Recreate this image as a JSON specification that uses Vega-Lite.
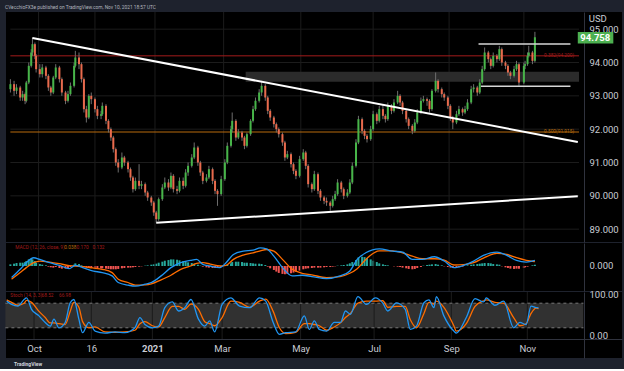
{
"$schema":"https://vega.github.io/schema/vega-lite/v6.json",
"background":"#1e222d",
"padding":{"left":4,"right":4,"top":4,"bottom":2},
"bounds":"flush",
"title":{"text":"CVecchioFX3e published on TradingView.com, Nov 10, 2021 18:57 UTC","anchor":"start","fontSize":4.8,"font":"Roboto","fontWeight":"normal","color":"#b2b5be","offset":2,"dx":1},
"spacing":1,
"config":{"view":{"stroke":null,"fill":"#000000"},"text":{"font":"Roboto"},"axis":{"labelOverlap":false},"axisY":{"labelOverlap":false},"axisRight":{"labelOverlap":false},"axisQuantitative":{"labelOverlap":false}},
"datasets":{
"vg":[{"d":"2020-10-01"},{"d":"2020-11-16"},{"d":"2021-01-04"},{"d":"2021-03-01"},{"d":"2021-05-03"},{"d":"2021-07-01"},{"d":"2021-09-01"},{"d":"2021-11-01"}],
"c":[
{"d":"2020-09-08","o":93.2,"h":93.5,"l":93.1,"c":93.35,"m":0.05},
{"d":"2020-09-11","o":93.35,"h":93.45,"l":93.0,"c":93.15,"m":0.07},
{"d":"2020-09-13","o":93.15,"h":93.35,"l":93.05,"c":93.25,"m":0.09},
{"d":"2020-09-16","o":93.25,"h":93.3,"l":92.85,"c":92.95,"m":0.1},
{"d":"2020-09-18","o":92.95,"h":93.15,"l":92.85,"c":93.05,"m":0.1},
{"d":"2020-09-20","o":93.05,"h":93.1,"l":92.75,"c":92.85,"m":0.12},
{"d":"2020-09-21","o":92.85,"h":93.45,"l":92.8,"c":93.4,"m":0.15},
{"d":"2020-09-23","o":93.4,"h":94.0,"l":93.35,"c":93.9,"m":0.2},
{"d":"2020-09-25","o":93.9,"h":94.4,"l":93.85,"c":94.3,"m":0.22},
{"d":"2020-09-26","o":94.3,"h":94.75,"l":94.2,"c":94.55,"m":0.2},
{"d":"2020-09-28","o":94.55,"h":94.6,"l":94.1,"c":94.2,"m":0.15},
{"d":"2020-09-29","o":94.2,"h":94.25,"l":93.7,"c":93.8,"m":0.1},
{"d":"2020-10-02","o":93.8,"h":93.95,"l":93.55,"c":93.65,"m":0.06},
{"d":"2020-10-04","o":93.65,"h":93.95,"l":93.55,"c":93.85,"m":0.04},
{"d":"2020-10-07","o":93.85,"h":93.9,"l":93.5,"c":93.6,"m":0.02},
{"d":"2020-10-09","o":93.6,"h":93.65,"l":93.15,"c":93.25,"m":-0.02},
{"d":"2020-10-11","o":93.25,"h":93.3,"l":93.0,"c":93.1,"m":-0.04},
{"d":"2020-10-13","o":93.1,"h":93.6,"l":93.05,"c":93.55,"m":-0.05},
{"d":"2020-10-15","o":93.55,"h":93.95,"l":93.5,"c":93.85,"m":-0.03},
{"d":"2020-10-18","o":93.85,"h":93.9,"l":93.4,"c":93.5,"m":-0.06},
{"d":"2020-10-20","o":93.5,"h":93.55,"l":93.0,"c":93.1,"m":-0.08},
{"d":"2020-10-23","o":93.1,"h":93.15,"l":92.75,"c":92.85,"m":-0.08},
{"d":"2020-10-25","o":92.85,"h":93.15,"l":92.8,"c":93.05,"m":-0.06},
{"d":"2020-10-27","o":93.05,"h":93.4,"l":93.0,"c":93.3,"m":-0.03},
{"d":"2020-10-30","o":93.3,"h":94.0,"l":93.25,"c":93.9,"m":0.04},
{"d":"2020-10-31","o":93.9,"h":94.35,"l":93.85,"c":94.15,"m":0.08},
{"d":"2020-11-03","o":94.15,"h":94.3,"l":93.8,"c":93.95,"m":0.06},
{"d":"2020-11-05","o":93.95,"h":94.0,"l":93.4,"c":93.5,"m":0.02},
{"d":"2020-11-07","o":93.5,"h":93.55,"l":92.5,"c":92.6,"m":-0.03},
{"d":"2020-11-09","o":92.6,"h":92.7,"l":92.2,"c":92.35,"m":-0.05},
{"d":"2020-11-11","o":92.35,"h":93.05,"l":92.3,"c":93.0,"m":-0.05},
{"d":"2020-11-13","o":93.0,"h":93.1,"l":92.75,"c":92.9,"m":-0.06},
{"d":"2020-11-16","o":92.9,"h":92.95,"l":92.5,"c":92.6,"m":-0.07},
{"d":"2020-11-18","o":92.6,"h":92.7,"l":92.3,"c":92.4,"m":-0.08},
{"d":"2020-11-21","o":92.4,"h":92.55,"l":92.3,"c":92.45,"m":-0.07},
{"d":"2020-11-22","o":92.45,"h":92.8,"l":92.4,"c":92.7,"m":-0.07},
{"d":"2020-11-25","o":92.7,"h":92.75,"l":92.15,"c":92.25,"m":-0.08},
{"d":"2020-11-27","o":92.25,"h":92.3,"l":91.9,"c":92.0,"m":-0.09},
{"d":"2020-11-29","o":92.0,"h":92.05,"l":91.65,"c":91.75,"m":-0.1},
{"d":"2020-12-01","o":91.75,"h":91.8,"l":91.3,"c":91.4,"m":-0.1},
{"d":"2020-12-03","o":91.4,"h":91.45,"l":90.9,"c":91.0,"m":-0.1},
{"d":"2020-12-05","o":91.0,"h":91.1,"l":90.7,"c":90.85,"m":-0.09},
{"d":"2020-12-08","o":90.85,"h":91.3,"l":90.8,"c":91.15,"m":-0.07},
{"d":"2020-12-10","o":91.15,"h":91.2,"l":90.9,"c":91.0,"m":-0.06},
{"d":"2020-12-13","o":91.0,"h":91.05,"l":90.7,"c":90.8,"m":-0.05},
{"d":"2020-12-15","o":90.8,"h":90.85,"l":90.45,"c":90.55,"m":-0.05},
{"d":"2020-12-17","o":90.55,"h":90.6,"l":90.1,"c":90.2,"m":-0.04},
{"d":"2020-12-19","o":90.2,"h":90.55,"l":90.15,"c":90.45,"m":-0.03},
{"d":"2020-12-22","o":90.45,"h":90.95,"l":90.2,"c":90.3,"m":-0.02},
{"d":"2020-12-24","o":90.3,"h":90.45,"l":90.2,"c":90.35,"m":-0.01},
{"d":"2020-12-27","o":90.35,"h":90.4,"l":90.0,"c":90.1,"m":0.01},
{"d":"2020-12-29","o":90.1,"h":90.15,"l":89.85,"c":89.95,"m":0.02},
{"d":"2021-01-01","o":89.95,"h":90.0,"l":89.7,"c":89.8,"m":0.04},
{"d":"2021-01-03","o":89.8,"h":89.85,"l":89.4,"c":89.5,"m":0.05},
{"d":"2021-01-05","o":89.5,"h":89.55,"l":89.2,"c":89.3,"m":0.07},
{"d":"2021-01-07","o":89.3,"h":89.95,"l":89.25,"c":89.9,"m":0.1},
{"d":"2021-01-10","o":89.9,"h":90.35,"l":89.85,"c":90.25,"m":0.13},
{"d":"2021-01-12","o":90.25,"h":90.55,"l":90.2,"c":90.4,"m":0.16},
{"d":"2021-01-15","o":90.4,"h":90.5,"l":90.15,"c":90.25,"m":0.18},
{"d":"2021-01-17","o":90.25,"h":90.7,"l":90.2,"c":90.6,"m":0.2},
{"d":"2021-01-19","o":90.6,"h":90.65,"l":90.1,"c":90.2,"m":0.2},
{"d":"2021-01-22","o":90.2,"h":90.3,"l":90.05,"c":90.15,"m":0.19},
{"d":"2021-01-24","o":90.15,"h":90.55,"l":90.1,"c":90.45,"m":0.17},
{"d":"2021-01-27","o":90.45,"h":90.55,"l":90.2,"c":90.3,"m":0.15},
{"d":"2021-01-29","o":90.3,"h":90.8,"l":90.25,"c":90.7,"m":0.13},
{"d":"2021-01-31","o":90.7,"h":91.0,"l":90.6,"c":90.9,"m":0.11},
{"d":"2021-02-03","o":90.9,"h":91.25,"l":90.85,"c":91.15,"m":0.09},
{"d":"2021-02-05","o":91.15,"h":91.6,"l":91.1,"c":91.45,"m":0.07},
{"d":"2021-02-08","o":91.45,"h":91.5,"l":90.9,"c":91.0,"m":0.04},
{"d":"2021-02-10","o":91.0,"h":91.05,"l":90.6,"c":90.7,"m":0.01},
{"d":"2021-02-12","o":90.7,"h":90.75,"l":90.35,"c":90.45,"m":-0.02},
{"d":"2021-02-15","o":90.45,"h":90.65,"l":90.4,"c":90.55,"m":-0.04},
{"d":"2021-02-17","o":90.55,"h":90.9,"l":90.5,"c":90.8,"m":-0.05},
{"d":"2021-02-20","o":90.8,"h":90.85,"l":90.35,"c":90.45,"m":-0.06},
{"d":"2021-02-22","o":90.45,"h":90.5,"l":90.05,"c":90.15,"m":-0.06},
{"d":"2021-02-24","o":90.15,"h":90.2,"l":89.7,"c":90.05,"m":-0.05},
{"d":"2021-02-27","o":90.05,"h":90.6,"l":90.0,"c":90.5,"m":-0.03},
{"d":"2021-03-02","o":90.5,"h":91.1,"l":90.45,"c":91.0,"m":0.0},
{"d":"2021-03-04","o":91.0,"h":91.6,"l":90.95,"c":91.5,"m":0.04},
{"d":"2021-03-07","o":91.5,"h":92.1,"l":91.45,"c":92.0,"m":0.08},
{"d":"2021-03-08","o":92.0,"h":92.5,"l":91.9,"c":92.25,"m":0.12},
{"d":"2021-03-11","o":92.25,"h":92.3,"l":91.65,"c":91.75,"m":0.13},
{"d":"2021-03-13","o":91.75,"h":92.0,"l":91.7,"c":91.9,"m":0.13},
{"d":"2021-03-16","o":91.9,"h":91.95,"l":91.65,"c":91.75,"m":0.12},
{"d":"2021-03-18","o":91.75,"h":91.8,"l":91.4,"c":91.5,"m":0.1},
{"d":"2021-03-20","o":91.5,"h":91.9,"l":91.45,"c":91.85,"m":0.1},
{"d":"2021-03-23","o":91.85,"h":92.3,"l":91.8,"c":92.25,"m":0.09},
{"d":"2021-03-25","o":92.25,"h":92.7,"l":92.2,"c":92.6,"m":0.08},
{"d":"2021-03-27","o":92.6,"h":92.95,"l":92.55,"c":92.85,"m":0.07},
{"d":"2021-03-30","o":92.85,"h":93.2,"l":92.8,"c":93.1,"m":0.07},
{"d":"2021-04-01","o":93.1,"h":93.45,"l":93.0,"c":93.3,"m":0.06},
{"d":"2021-04-04","o":93.3,"h":93.35,"l":92.85,"c":92.95,"m":0.03},
{"d":"2021-04-06","o":92.95,"h":93.0,"l":92.45,"c":92.55,"m":-0.02},
{"d":"2021-04-08","o":92.55,"h":92.6,"l":92.25,"c":92.35,"m":-0.07},
{"d":"2021-04-11","o":92.35,"h":92.4,"l":92.05,"c":92.15,"m":-0.12},
{"d":"2021-04-13","o":92.15,"h":92.2,"l":91.9,"c":92.0,"m":-0.17},
{"d":"2021-04-15","o":92.0,"h":92.05,"l":91.75,"c":91.85,"m":-0.21},
{"d":"2021-04-18","o":91.85,"h":91.9,"l":91.5,"c":91.6,"m":-0.24},
{"d":"2021-04-20","o":91.6,"h":91.65,"l":91.05,"c":91.15,"m":-0.25},
{"d":"2021-04-22","o":91.15,"h":91.35,"l":91.1,"c":91.25,"m":-0.24},
{"d":"2021-04-25","o":91.25,"h":91.3,"l":90.85,"c":90.95,"m":-0.22},
{"d":"2021-04-27","o":90.95,"h":91.0,"l":90.65,"c":90.75,"m":-0.2},
{"d":"2021-04-29","o":90.75,"h":90.8,"l":90.5,"c":90.6,"m":-0.17},
{"d":"2021-05-02","o":90.6,"h":91.2,"l":90.55,"c":91.1,"m":-0.14},
{"d":"2021-05-05","o":91.1,"h":91.4,"l":91.05,"c":91.3,"m":-0.1},
{"d":"2021-05-07","o":91.3,"h":91.35,"l":90.8,"c":90.9,"m":-0.08},
{"d":"2021-05-09","o":90.9,"h":90.95,"l":90.25,"c":90.35,"m":-0.07},
{"d":"2021-05-12","o":90.35,"h":90.4,"l":90.1,"c":90.2,"m":-0.06},
{"d":"2021-05-14","o":90.2,"h":90.75,"l":90.15,"c":90.65,"m":-0.05},
{"d":"2021-05-17","o":90.65,"h":90.7,"l":90.05,"c":90.15,"m":-0.05},
{"d":"2021-05-19","o":90.15,"h":90.2,"l":89.85,"c":89.95,"m":-0.05},
{"d":"2021-05-22","o":89.95,"h":90.0,"l":89.75,"c":89.85,"m":-0.04},
{"d":"2021-05-24","o":89.85,"h":89.95,"l":89.7,"c":89.8,"m":-0.03},
{"d":"2021-05-27","o":89.8,"h":89.85,"l":89.55,"c":89.7,"m":-0.03},
{"d":"2021-05-29","o":89.7,"h":90.0,"l":89.65,"c":89.9,"m":-0.02},
{"d":"2021-05-31","o":89.9,"h":90.15,"l":89.85,"c":90.05,"m":-0.01},
{"d":"2021-06-02","o":90.05,"h":90.5,"l":90.0,"c":90.4,"m":0.01},
{"d":"2021-06-05","o":90.4,"h":90.45,"l":90.1,"c":90.2,"m":0.02},
{"d":"2021-06-07","o":90.2,"h":90.25,"l":89.9,"c":90.0,"m":0.03},
{"d":"2021-06-10","o":90.0,"h":90.2,"l":89.95,"c":90.1,"m":0.05},
{"d":"2021-06-12","o":90.1,"h":90.5,"l":90.05,"c":90.4,"m":0.08},
{"d":"2021-06-14","o":90.4,"h":91.0,"l":90.35,"c":90.9,"m":0.12},
{"d":"2021-06-17","o":90.9,"h":91.7,"l":90.85,"c":91.6,"m":0.18},
{"d":"2021-06-19","o":91.6,"h":92.4,"l":91.55,"c":92.3,"m":0.26},
{"d":"2021-06-22","o":92.3,"h":92.35,"l":91.85,"c":91.95,"m":0.28},
{"d":"2021-06-24","o":91.95,"h":92.0,"l":91.7,"c":91.8,"m":0.27},
{"d":"2021-06-26","o":91.8,"h":91.85,"l":91.6,"c":91.7,"m":0.24},
{"d":"2021-06-29","o":91.7,"h":92.1,"l":91.65,"c":92.0,"m":0.2},
{"d":"2021-07-01","o":92.0,"h":92.55,"l":91.95,"c":92.45,"m":0.16},
{"d":"2021-07-04","o":92.45,"h":92.5,"l":92.15,"c":92.25,"m":0.12},
{"d":"2021-07-06","o":92.25,"h":92.7,"l":92.2,"c":92.6,"m":0.08},
{"d":"2021-07-09","o":92.6,"h":92.75,"l":92.3,"c":92.4,"m":0.05},
{"d":"2021-07-11","o":92.4,"h":92.45,"l":92.2,"c":92.3,"m":0.03},
{"d":"2021-07-13","o":92.3,"h":92.8,"l":92.25,"c":92.7,"m":0.02},
{"d":"2021-07-16","o":92.7,"h":92.75,"l":92.45,"c":92.55,"m":0.0},
{"d":"2021-07-18","o":92.55,"h":92.9,"l":92.5,"c":92.8,"m":-0.01},
{"d":"2021-07-21","o":92.8,"h":93.15,"l":92.75,"c":93.0,"m":-0.02},
{"d":"2021-07-23","o":93.0,"h":93.05,"l":92.7,"c":92.8,"m":-0.03},
{"d":"2021-07-25","o":92.8,"h":92.85,"l":92.45,"c":92.55,"m":-0.05},
{"d":"2021-07-28","o":92.55,"h":92.6,"l":92.2,"c":92.3,"m":-0.07},
{"d":"2021-07-30","o":92.3,"h":92.35,"l":92.0,"c":92.1,"m":-0.09},
{"d":"2021-08-02","o":92.1,"h":92.15,"l":91.85,"c":91.95,"m":-0.1},
{"d":"2021-08-04","o":91.95,"h":92.3,"l":91.9,"c":92.2,"m":-0.09},
{"d":"2021-08-06","o":92.2,"h":92.6,"l":92.15,"c":92.5,"m":-0.06},
{"d":"2021-08-09","o":92.5,"h":92.95,"l":92.45,"c":92.85,"m":-0.03},
{"d":"2021-08-11","o":92.85,"h":93.0,"l":92.8,"c":92.9,"m":0.01},
{"d":"2021-08-14","o":92.9,"h":92.95,"l":92.7,"c":92.85,"m":0.03},
{"d":"2021-08-16","o":92.85,"h":92.9,"l":92.5,"c":92.6,"m":0.04},
{"d":"2021-08-18","o":92.6,"h":93.2,"l":92.55,"c":93.15,"m":0.05},
{"d":"2021-08-21","o":93.15,"h":93.7,"l":93.1,"c":93.45,"m":0.06},
{"d":"2021-08-23","o":93.45,"h":93.5,"l":93.1,"c":93.2,"m":0.04},
{"d":"2021-08-26","o":93.2,"h":93.25,"l":92.95,"c":93.05,"m":0.02},
{"d":"2021-08-28","o":93.05,"h":93.1,"l":92.85,"c":92.95,"m":-0.01},
{"d":"2021-08-31","o":92.95,"h":93.0,"l":92.6,"c":92.7,"m":-0.03},
{"d":"2021-09-02","o":92.7,"h":92.75,"l":92.25,"c":92.35,"m":-0.05},
{"d":"2021-09-04","o":92.35,"h":92.4,"l":92.0,"c":92.2,"m":-0.06},
{"d":"2021-09-07","o":92.2,"h":92.55,"l":92.15,"c":92.45,"m":-0.06},
{"d":"2021-09-09","o":92.45,"h":92.7,"l":92.4,"c":92.6,"m":-0.04},
{"d":"2021-09-12","o":92.6,"h":92.65,"l":92.4,"c":92.5,"m":-0.02},
{"d":"2021-09-14","o":92.5,"h":92.7,"l":92.45,"c":92.6,"m":0.0},
{"d":"2021-09-16","o":92.6,"h":92.9,"l":92.55,"c":92.8,"m":0.02},
{"d":"2021-09-19","o":92.8,"h":93.3,"l":92.75,"c":93.2,"m":0.04},
{"d":"2021-09-21","o":93.2,"h":93.35,"l":93.1,"c":93.25,"m":0.05},
{"d":"2021-09-24","o":93.25,"h":93.3,"l":93.0,"c":93.1,"m":0.06},
{"d":"2021-09-26","o":93.1,"h":93.5,"l":93.05,"c":93.4,"m":0.07},
{"d":"2021-09-28","o":93.4,"h":93.9,"l":93.35,"c":93.8,"m":0.08},
{"d":"2021-09-30","o":93.8,"h":94.45,"l":93.75,"c":94.3,"m":0.09},
{"d":"2021-10-03","o":94.3,"h":94.35,"l":94.0,"c":94.1,"m":0.09},
{"d":"2021-10-05","o":94.1,"h":94.15,"l":93.8,"c":93.9,"m":0.08},
{"d":"2021-10-07","o":93.9,"h":94.3,"l":93.85,"c":94.2,"m":0.06},
{"d":"2021-10-10","o":94.2,"h":94.25,"l":94.0,"c":94.1,"m":0.05},
{"d":"2021-10-12","o":94.1,"h":94.5,"l":94.05,"c":94.4,"m":0.04},
{"d":"2021-10-14","o":94.4,"h":94.45,"l":93.9,"c":94.0,"m":-0.01},
{"d":"2021-10-17","o":94.0,"h":94.05,"l":93.8,"c":93.9,"m":-0.04},
{"d":"2021-10-19","o":93.9,"h":93.95,"l":93.6,"c":93.7,"m":-0.06},
{"d":"2021-10-21","o":93.7,"h":93.75,"l":93.5,"c":93.6,"m":-0.08},
{"d":"2021-10-24","o":93.6,"h":93.9,"l":93.55,"c":93.8,"m":-0.09},
{"d":"2021-10-26","o":93.8,"h":94.05,"l":93.75,"c":93.95,"m":-0.08},
{"d":"2021-10-28","o":93.95,"h":94.0,"l":93.3,"c":93.4,"m":-0.08},
{"d":"2021-11-01","o":93.4,"h":94.0,"l":93.35,"c":93.9,"m":-0.06},
{"d":"2021-11-02","o":93.9,"h":94.05,"l":93.8,"c":93.95,"m":-0.04},
{"d":"2021-11-04","o":93.95,"h":94.3,"l":93.9,"c":94.2,"m":-0.02},
{"d":"2021-11-05","o":94.2,"h":94.5,"l":94.15,"c":94.3,"m":0.0},
{"d":"2021-11-08","o":94.3,"h":94.35,"l":93.95,"c":94.05,"m":0.02},
{"d":"2021-11-10","o":94.05,"h":94.92,"l":94.0,"c":94.758,"m":0.038}
],
"ml":[{"d":"2020-09-09","a":-0.35,"s":-0.4},{"d":"2020-09-16","a":-0.1,"s":-0.2},{"d":"2020-09-21","a":0.1,"s":-0.05},{"d":"2020-09-27","a":0.25,"s":0.1},{"d":"2020-10-02","a":0.2,"s":0.15},{"d":"2020-10-10","a":0.1,"s":0.12},{"d":"2020-10-18","a":0.02,"s":0.07},{"d":"2020-10-26","a":-0.08,"s":0.01},{"d":"2020-10-31","a":0.02,"s":0.0},{"d":"2020-11-06","a":-0.05,"s":-0.02},{"d":"2020-11-14","a":-0.15,"s":-0.06},{"d":"2020-11-22","a":-0.2,"s":-0.1},{"d":"2020-11-30","a":-0.3,"s":-0.2},{"d":"2020-12-05","a":-0.5,"s":-0.4},{"d":"2020-12-13","a":-0.58,"s":-0.5},{"d":"2020-12-19","a":-0.61,"s":-0.58},{"d":"2020-12-27","a":-0.55,"s":-0.57},{"d":"2021-01-01","a":-0.5,"s":-0.54},{"d":"2021-01-09","a":-0.3,"s":-0.42},{"d":"2021-01-17","a":-0.05,"s":-0.28},{"d":"2021-01-25","a":0.1,"s":-0.1},{"d":"2021-02-02","a":0.17,"s":0.0},{"d":"2021-02-07","a":0.2,"s":0.08},{"d":"2021-02-12","a":0.05,"s":0.1},{"d":"2021-02-18","a":0.0,"s":0.06},{"d":"2021-02-26","a":-0.05,"s":0.0},{"d":"2021-03-03","a":0.1,"s":0.02},{"d":"2021-03-09","a":0.35,"s":0.2},{"d":"2021-03-17","a":0.45,"s":0.33},{"d":"2021-03-25","a":0.48,"s":0.4},{"d":"2021-03-31","a":0.55,"s":0.46},{"d":"2021-04-05","a":0.52,"s":0.5},{"d":"2021-04-11","a":0.3,"s":0.45},{"d":"2021-04-18","a":-0.05,"s":0.2},{"d":"2021-04-26","a":-0.3,"s":-0.1},{"d":"2021-05-04","a":-0.28,"s":-0.22},{"d":"2021-05-12","a":-0.32,"s":-0.27},{"d":"2021-05-24","a":-0.38,"s":-0.35},{"d":"2021-06-04","a":-0.3,"s":-0.32},{"d":"2021-06-12","a":-0.15,"s":-0.22},{"d":"2021-06-18","a":0.2,"s":-0.08},{"d":"2021-06-25","a":0.4,"s":0.2},{"d":"2021-07-06","a":0.52,"s":0.46},{"d":"2021-07-17","a":0.45,"s":0.46},{"d":"2021-07-25","a":0.42,"s":0.4},{"d":"2021-08-02","a":0.2,"s":0.3},{"d":"2021-08-10","a":0.2,"s":0.22},{"d":"2021-08-20","a":0.28,"s":0.22},{"d":"2021-08-28","a":0.15,"s":0.18},{"d":"2021-09-05","a":-0.05,"s":0.03},{"d":"2021-09-13","a":0.02,"s":0.04},{"d":"2021-09-21","a":0.15,"s":0.1},{"d":"2021-09-29","a":0.32,"s":0.24},{"d":"2021-10-10","a":0.42,"s":0.38},{"d":"2021-10-18","a":0.32,"s":0.35},{"d":"2021-10-26","a":0.17,"s":0.25},{"d":"2021-11-03","a":0.12,"s":0.17},{"d":"2021-11-10","a":0.17,"s":0.13}],
"st":[{"d":"2020-09-09","k":85,"s":88},{"d":"2020-09-13","k":77,"s":82},{"d":"2020-09-18","k":73,"s":75},{"d":"2020-09-23","k":89,"s":80},{"d":"2020-09-25","k":93,"s":87},{"d":"2020-09-29","k":65,"s":82},{"d":"2020-10-05","k":49,"s":60},{"d":"2020-10-10","k":33,"s":45},{"d":"2020-10-14","k":24,"s":32},{"d":"2020-10-17","k":41,"s":32},{"d":"2020-10-21","k":20,"s":30},{"d":"2020-10-26","k":33,"s":28},{"d":"2020-10-30","k":81,"s":60},{"d":"2020-11-02","k":89,"s":82},{"d":"2020-11-06","k":41,"s":70},{"d":"2020-11-09","k":8,"s":35},{"d":"2020-11-14","k":33,"s":20},{"d":"2020-11-19","k":12,"s":22},{"d":"2020-11-27","k":7,"s":10},{"d":"2020-12-05","k":10,"s":9},{"d":"2020-12-13","k":8,"s":10},{"d":"2020-12-21","k":20,"s":14},{"d":"2020-12-25","k":45,"s":30},{"d":"2020-12-29","k":28,"s":35},{"d":"2021-01-04","k":20,"s":25},{"d":"2021-01-09","k":24,"s":22},{"d":"2021-01-14","k":69,"s":45},{"d":"2021-01-20","k":83,"s":72},{"d":"2021-01-25","k":61,"s":72},{"d":"2021-01-30","k":69,"s":65},{"d":"2021-02-04","k":89,"s":78},{"d":"2021-02-10","k":41,"s":65},{"d":"2021-02-15","k":24,"s":35},{"d":"2021-02-19","k":37,"s":30},{"d":"2021-02-23","k":10,"s":25},{"d":"2021-03-01","k":77,"s":45},{"d":"2021-03-08","k":93,"s":85},{"d":"2021-03-15","k":73,"s":82},{"d":"2021-03-23","k":69,"s":70},{"d":"2021-03-31","k":93,"s":85},{"d":"2021-04-05","k":85,"s":90},{"d":"2021-04-11","k":33,"s":60},{"d":"2021-04-16","k":4,"s":20},{"d":"2021-04-21","k":8,"s":6},{"d":"2021-04-29","k":10,"s":9},{"d":"2021-05-06","k":49,"s":30},{"d":"2021-05-10","k":16,"s":30},{"d":"2021-05-14","k":37,"s":28},{"d":"2021-05-18","k":16,"s":25},{"d":"2021-05-24","k":12,"s":14},{"d":"2021-05-30","k":33,"s":22},{"d":"2021-06-04","k":33,"s":32},{"d":"2021-06-08","k":61,"s":45},{"d":"2021-06-12","k":53,"s":55},{"d":"2021-06-18","k":96,"s":80},{"d":"2021-06-25","k":77,"s":85},{"d":"2021-07-02","k":93,"s":85},{"d":"2021-07-08","k":80,"s":86},{"d":"2021-07-12","k":61,"s":70},{"d":"2021-07-19","k":81,"s":72},{"d":"2021-07-26","k":65,"s":72},{"d":"2021-07-30","k":16,"s":40},{"d":"2021-08-04","k":24,"s":20},{"d":"2021-08-10","k":81,"s":55},{"d":"2021-08-14","k":88,"s":82},{"d":"2021-08-18","k":69,"s":78},{"d":"2021-08-20","k":96,"s":85},{"d":"2021-08-26","k":49,"s":70},{"d":"2021-09-03","k":12,"s":25},{"d":"2021-09-05","k":7,"s":12},{"d":"2021-09-13","k":45,"s":30},{"d":"2021-09-20","k":91,"s":72},{"d":"2021-09-27","k":83,"s":86},{"d":"2021-09-29","k":93,"s":88},{"d":"2021-10-06","k":75,"s":82},{"d":"2021-10-13","k":85,"s":80},{"d":"2021-10-21","k":20,"s":45},{"d":"2021-10-26","k":33,"s":25},{"d":"2021-10-31","k":28,"s":30},{"d":"2021-11-04","k":73,"s":55},{"d":"2021-11-08","k":69,"s":68},{"d":"2021-11-10","k":68.52,"s":66.98}]
},
"vconcat":[
{
"width":616,"height":230,
"encoding":{"x":{"field":"d","type":"temporal","scale":{"domain":[{"year":2020,"month":9,"date":8,"hours":12,"utc":true},{"year":2022,"month":1,"date":16,"utc":true}],"nice":false},"axis":null}},
"layer":[
{"data":{"values":[{"d":"2020-09-08","d2":"2021-12-16","p":89},{"d":"2020-09-08","d2":"2021-12-16","p":90},{"d":"2020-09-08","d2":"2021-12-16","p":91},{"d":"2020-09-08","d2":"2021-12-16","p":92},{"d":"2020-09-08","d2":"2021-12-16","p":93},{"d":"2020-09-08","d2":"2021-12-16","p":94},{"d":"2020-09-08","d2":"2021-12-16","p":95}]},
 "mark":{"type":"rule","color":"#1c1c1c"},
 "encoding":{"x2":{"field":"d2"},"y":{"field":"p","type":"quantitative","scale":{"domain":[88.615,95.515],"nice":false,"zero":false},"axis":{"orient":"right","offset":-38,"values":[89,90,91,92,93,94,95],"tickCount":7,"format":".3f","title":null,"grid":false,"ticks":false,"domain":true,"domainColor":"#30333e","labelColor":"#c9ccd4","labelFontSize":9.5,"labelFont":"Roboto","labelAlign":"left","labelPadding":5,"labelBaseline":"middle","labelOverlap":false,"labelBound":false,"labelFlush":false,"labelSeparation":0}}}},
{"data":{"name":"vg"},"mark":{"type":"rule","color":"#1c1c1c"},"encoding":{}},
{"data":{"values":[{"d":"2021-03-19","d2":"2021-12-16","p1":93.42,"p2":93.72}]},"mark":{"type":"rect","color":"#2b2b2b"},
 "encoding":{"x2":{"field":"d2"},"y":{"field":"p1","type":"quantitative","title":null},"y2":{"field":"p2"}}},
{"data":{"values":[{"d":"2020-09-08","d2":"2021-12-16","p":94.2,"k":"a"},{"d":"2020-09-08","d2":"2021-12-16","p":91.915,"k":"b"}]},"mark":{"type":"rule","strokeWidth":1},
 "encoding":{"x2":{"field":"d2"},"y":{"field":"p","type":"quantitative","title":null},"color":{"field":"k","type":"nominal","scale":{"domain":["a","b"],"range":["#a31b1b","#b86a0c"]},"legend":null}}},
{"data":{"values":[{"d":"2021-12-12","p":94.2,"t":"0.382(94.200)","k":"a"},{"d":"2021-12-12","p":91.915,"t":"0.500(91.915)","k":"b"}]},"mark":{"type":"text","align":"right","baseline":"middle","fontSize":4.8},
 "encoding":{"y":{"field":"p","type":"quantitative","title":null},"text":{"field":"t"},"color":{"field":"k","type":"nominal","legend":null}}},
{"data":{"name":"c"},"mark":{"type":"rule","color":"#6e6e6e","strokeWidth":1},
 "encoding":{"y":{"field":"l","type":"quantitative","title":null},"y2":{"field":"h"}}},
{"data":{"name":"c"},"mark":{"type":"bar","width":2},
 "encoding":{"y":{"field":"o","type":"quantitative","title":null},"y2":{"field":"c"},"color":{"condition":{"test":"datum.c >= datum.o","value":"#47b549"},"value":"#e96a4c"}}},
{"data":{"values":[{"g":"a","d":"2020-09-26","p":94.735},{"g":"a","d":"2021-12-15","p":91.615},{"g":"b","d":"2021-01-05","p":89.19},{"g":"b","d":"2021-12-15","p":89.99}]},"mark":{"type":"line","color":"#ffffff","strokeWidth":2},
 "encoding":{"y":{"field":"p","type":"quantitative","title":null},"detail":{"field":"g"}}},
{"data":{"values":[{"g":"u","d":"2021-09-25","p":94.555},{"g":"u","d":"2021-12-09","p":94.555},{"g":"l","d":"2021-09-27","p":93.286},{"g":"l","d":"2021-12-09","p":93.286}]},"mark":{"type":"line","color":"#d6d6d6","strokeWidth":1.5},
 "encoding":{"y":{"field":"p","type":"quantitative","title":null},"detail":{"field":"g"}}},
{"data":{"values":[{"d":"2021-12-15","d2":"2022-01-13","p1":94.57,"p2":94.915}]},"mark":{"type":"rect","color":"#4caf50"},
 "encoding":{"x2":{"field":"d2"},"y":{"field":"p1","type":"quantitative","title":null},"y2":{"field":"p2"}}},
{"data":{"values":[{"d":"2021-12-17","p":94.74,"t":"94.758"}]},"mark":{"type":"text","align":"left","baseline":"middle","fontSize":9.5,"fontWeight":"bold","color":"#ffffff"},
 "encoding":{"y":{"field":"p","type":"quantitative","title":null},"text":{"field":"t"}}},
{"data":{"values":[{"d":"2021-12-24","p":95.3,"t":"USD"}]},"mark":{"type":"text","align":"left","baseline":"middle","fontSize":9.5,"color":"#c9ccd4"},
 "encoding":{"y":{"field":"p","type":"quantitative","title":null},"text":{"field":"t"}}}
]
},
{
"width":616,"height":48,
"encoding":{"x":{"field":"d","type":"temporal","scale":{"domain":[{"year":2020,"month":9,"date":8,"hours":12,"utc":true},{"year":2022,"month":1,"date":16,"utc":true}],"nice":false},"axis":null}},
"layer":[
{"data":{"name":"c"},"mark":{"type":"bar","width":2},
 "encoding":{"y":{"field":"m","type":"quantitative","scale":{"domain":[-0.758,0.697],"nice":false,"zero":false},"axis":{"orient":"right","offset":-38,"zindex":1,"values":[0],"format":".3f","title":null,"grid":false,"ticks":false,"domain":true,"domainColor":"#30333e","labelColor":"#c9ccd4","labelFontSize":9.5,"labelFont":"Roboto","labelAlign":"left","labelPadding":5,"labelBaseline":"middle","labelOverlap":false,"labelBound":false,"labelFlush":false}},"y2":{"datum":0},"color":{"condition":{"test":"datum.m >= 0","value":"#26a69a"},"value":"#ef5350"}}},
{"data":{"name":"vg"},"mark":{"type":"rule","color":"#1c1c1c"},"encoding":{}},
{"data":{"name":"ml"},"mark":{"type":"line","color":"#ff6d00","strokeWidth":1.3,"interpolate":"monotone"},
 "encoding":{"y":{"field":"s","type":"quantitative","title":null}}},
{"data":{"name":"ml"},"mark":{"type":"line","color":"#2196f3","strokeWidth":1.3,"interpolate":"monotone"},
 "encoding":{"y":{"field":"a","type":"quantitative","title":null}}},
{"data":{"values":[{"d":"2020-09-12","v":0.545,"t":"MACD (12, 26, close, 9)","k":"n"},{"d":"2020-10-22","v":0.545,"t":"0.038","k":"h"},{"d":"2020-11-01","v":0.545,"t":"0.170","k":"a"},{"d":"2020-11-14","v":0.545,"t":"0.132","k":"s"}]},"mark":{"type":"text","align":"left","baseline":"middle","fontSize":4.8},
 "encoding":{"y":{"field":"v","type":"quantitative","title":null},"text":{"field":"t"},"color":{"field":"k","type":"nominal","scale":{"domain":["n","h","a","s"],"range":["#b2b5be","#26a69a","#2196f3","#ff6d00"]},"legend":null}}}
]
},
{
"width":616,"height":66,
"title":{"text":"TradingView","orient":"bottom","anchor":"start","fontSize":5,"fontWeight":"bold","color":"#d1d4dc","offset":4,"dx":10,"font":"Roboto"},
"encoding":{"x":{"field":"d","type":"temporal","scale":{"domain":[{"year":2020,"month":9,"date":8,"hours":12,"utc":true},{"year":2022,"month":1,"date":16,"utc":true}],"nice":false},
 "axis":{"orient":"bottom","offset":-19,"zindex":1,"title":null,"grid":false,"ticks":false,"domain":true,"domainColor":"#30333e","labelColor":"#c9ccd4","labelFontSize":9.5,"labelFont":"Roboto","labelPadding":4,"labelOverlap":false,"labelBound":false,
 "values":[{"year":2020,"month":10,"date":1,"utc":true},{"year":2020,"month":11,"date":16,"utc":true},{"year":2021,"month":1,"date":4,"utc":true},{"year":2021,"month":3,"date":1,"utc":true},{"year":2021,"month":5,"date":3,"utc":true},{"year":2021,"month":7,"date":1,"utc":true},{"year":2021,"month":9,"date":1,"utc":true},{"year":2021,"month":11,"date":1,"utc":true}],
 "labelExpr":"utcFormat(datum.value, '%m-%d') == '11-16' ? '16' : (utcFormat(datum.value, '%m') == '01' ? utcFormat(datum.value, '%Y') : utcFormat(datum.value, '%b'))",
 "labelFontWeight":{"condition":{"test":"utcFormat(datum.value, '%m') == '01'","value":"bold"},"value":"normal"}}}},
"layer":[
{"data":{"values":[{"d":"2020-09-08","d2":"2021-12-16","p1":20,"p2":80}]},"mark":{"type":"rect","color":"#313131"},
 "encoding":{"x2":{"field":"d2"},"y":{"field":"p1","type":"quantitative","scale":{"domain":[-53.7,107.3],"nice":false,"zero":false},"axis":{"orient":"right","offset":-38,"zindex":1,"values":[0,100],"format":".2f","title":null,"grid":false,"ticks":false,"domain":true,"domainColor":"#30333e","labelColor":"#c9ccd4","labelFontSize":9.5,"labelFont":"Roboto","labelAlign":"left","labelPadding":5,"labelBaseline":"middle","labelOverlap":false,"labelBound":false,"labelFlush":false}},"y2":{"field":"p2"}}},
{"data":{"name":"vg"},"mark":{"type":"rule","color":"#1c1c1c"},
 "encoding":{"y":{"datum":-7.3,"type":"quantitative","title":null},"y2":{"datum":107.3}}},
{"data":{"values":[{"d":"2020-09-08","d2":"2021-12-16","p":20},{"d":"2020-09-08","d2":"2021-12-16","p":80}]},"mark":{"type":"rule","color":"#787878","strokeDash":[3,3]},
 "encoding":{"x2":{"field":"d2"},"y":{"field":"p","type":"quantitative","title":null}}},
{"data":{"name":"st"},"mark":{"type":"line","color":"#ff6d00","strokeWidth":1.3,"interpolate":"monotone"},
 "encoding":{"y":{"field":"s","type":"quantitative","title":null}}},
{"data":{"name":"st"},"mark":{"type":"line","color":"#2196f3","strokeWidth":1.3,"interpolate":"monotone"},
 "encoding":{"y":{"field":"k","type":"quantitative","title":null}}},
{"data":{"values":[{"d":"2020-09-12","v":97.6,"t":"Stoch (14, 3, 3)","k":"n"},{"d":"2020-10-07","v":97.6,"t":"68.52","k":"a"},{"d":"2020-10-21","v":97.6,"t":"66.98","k":"s"}]},"mark":{"type":"text","align":"left","baseline":"middle","fontSize":4.8},
 "encoding":{"y":{"field":"v","type":"quantitative","title":null},"text":{"field":"t"},"color":{"field":"k","type":"nominal","scale":{"domain":["n","a","s"],"range":["#b2b5be","#2196f3","#ff6d00"]},"legend":null}}}
]
}
]
}
